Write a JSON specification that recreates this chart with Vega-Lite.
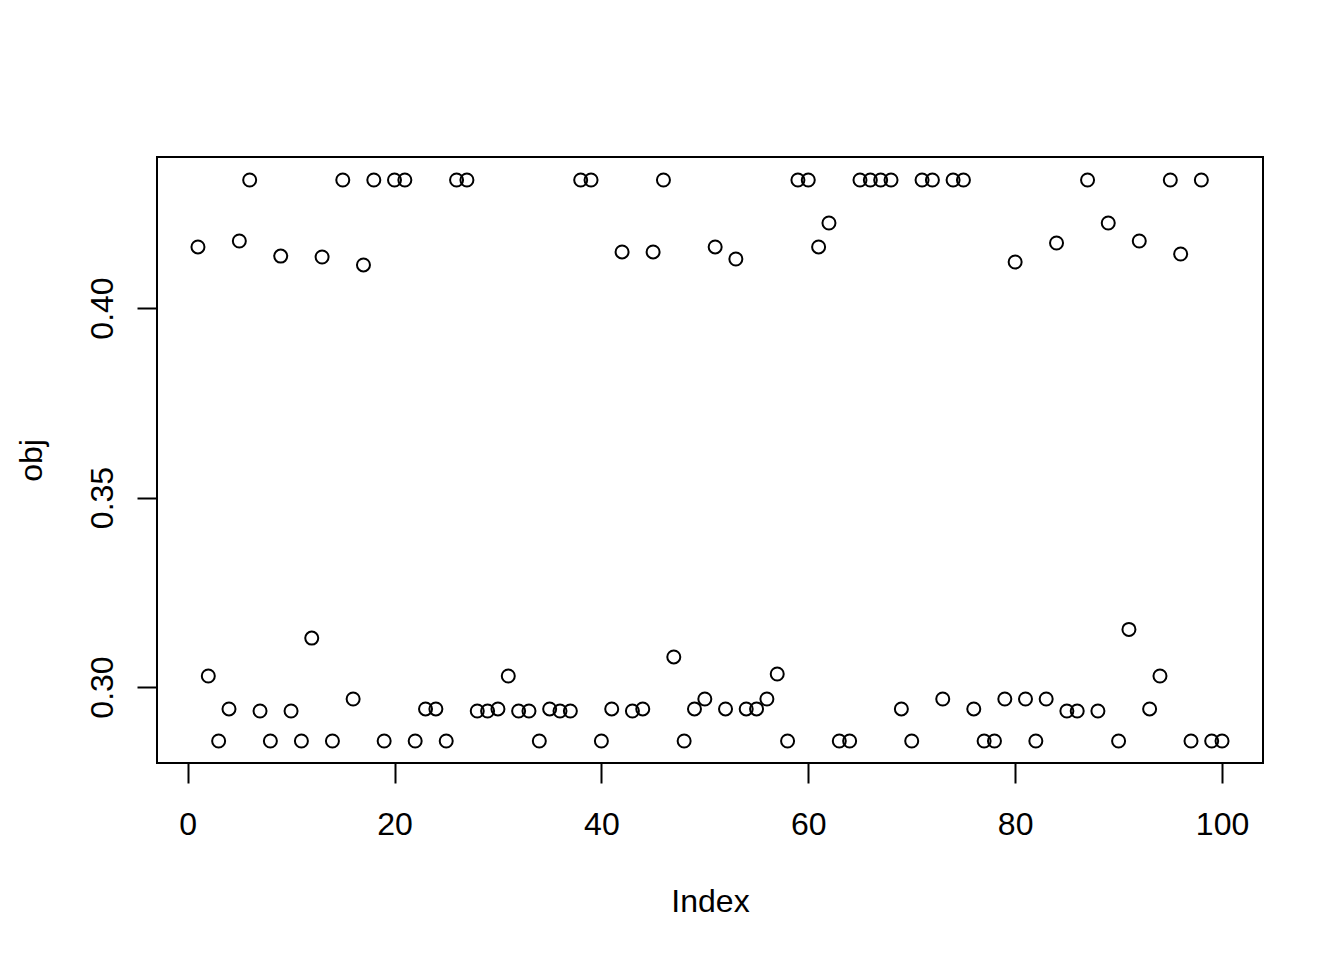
{
  "$schema": "https://vega.github.io/schema/vega-lite/v6.json",
  "width": 1106,
  "height": 606,
  "autosize": {"type": "none"},
  "padding": {"left": 157, "top": 157, "right": 81, "bottom": 197},
  "background": "white",
  "config": {"view": {"stroke": "black", "strokeWidth": 2}, "font": "Liberation Sans"},
  "data": {"values": [
    {"index": 1, "obj": 0.4161}, {"index": 2, "obj": 0.3029}, {"index": 3, "obj": 0.28575}, {"index": 4, "obj": 0.2942}, {"index": 5, "obj": 0.41768},
    {"index": 6, "obj": 0.43377}, {"index": 7, "obj": 0.29367}, {"index": 8, "obj": 0.28575}, {"index": 9, "obj": 0.4137}, {"index": 10, "obj": 0.29367},
    {"index": 11, "obj": 0.28575}, {"index": 12, "obj": 0.3129}, {"index": 13, "obj": 0.41346}, {"index": 14, "obj": 0.28575}, {"index": 15, "obj": 0.43377},
    {"index": 16, "obj": 0.29683}, {"index": 17, "obj": 0.41135}, {"index": 18, "obj": 0.43377}, {"index": 19, "obj": 0.28575}, {"index": 20, "obj": 0.43377},
    {"index": 21, "obj": 0.43377}, {"index": 22, "obj": 0.28575}, {"index": 23, "obj": 0.2942}, {"index": 24, "obj": 0.2942}, {"index": 25, "obj": 0.28575},
    {"index": 26, "obj": 0.43377}, {"index": 27, "obj": 0.43377}, {"index": 28, "obj": 0.29367}, {"index": 29, "obj": 0.29367}, {"index": 30, "obj": 0.2942},
    {"index": 31, "obj": 0.3029}, {"index": 32, "obj": 0.29367}, {"index": 33, "obj": 0.29367}, {"index": 34, "obj": 0.28575}, {"index": 35, "obj": 0.2942},
    {"index": 36, "obj": 0.29367}, {"index": 37, "obj": 0.29367}, {"index": 38, "obj": 0.43377}, {"index": 39, "obj": 0.43377}, {"index": 40, "obj": 0.28575},
    {"index": 41, "obj": 0.2942}, {"index": 42, "obj": 0.41478}, {"index": 43, "obj": 0.29367}, {"index": 44, "obj": 0.2942}, {"index": 45, "obj": 0.41478},
    {"index": 46, "obj": 0.43377}, {"index": 47, "obj": 0.30792}, {"index": 48, "obj": 0.28575}, {"index": 49, "obj": 0.2942}, {"index": 50, "obj": 0.29683},
    {"index": 51, "obj": 0.4161}, {"index": 52, "obj": 0.2942}, {"index": 53, "obj": 0.41293}, {"index": 54, "obj": 0.2942}, {"index": 55, "obj": 0.2942},
    {"index": 56, "obj": 0.29683}, {"index": 57, "obj": 0.30343}, {"index": 58, "obj": 0.28575}, {"index": 59, "obj": 0.43377}, {"index": 60, "obj": 0.43377},
    {"index": 61, "obj": 0.4161}, {"index": 62, "obj": 0.42243}, {"index": 63, "obj": 0.28575}, {"index": 64, "obj": 0.28575}, {"index": 65, "obj": 0.43377},
    {"index": 66, "obj": 0.43377}, {"index": 67, "obj": 0.43377}, {"index": 68, "obj": 0.43377}, {"index": 69, "obj": 0.2942}, {"index": 70, "obj": 0.28575},
    {"index": 71, "obj": 0.43377}, {"index": 72, "obj": 0.43377}, {"index": 73, "obj": 0.29683}, {"index": 74, "obj": 0.43377}, {"index": 75, "obj": 0.43377},
    {"index": 76, "obj": 0.2942}, {"index": 77, "obj": 0.28575}, {"index": 78, "obj": 0.28575}, {"index": 79, "obj": 0.29683}, {"index": 80, "obj": 0.41214},
    {"index": 81, "obj": 0.29683}, {"index": 82, "obj": 0.28575}, {"index": 83, "obj": 0.29683}, {"index": 84, "obj": 0.41715}, {"index": 85, "obj": 0.29367},
    {"index": 86, "obj": 0.29367}, {"index": 87, "obj": 0.43377}, {"index": 88, "obj": 0.29367}, {"index": 89, "obj": 0.42243}, {"index": 90, "obj": 0.28575},
    {"index": 91, "obj": 0.3152}, {"index": 92, "obj": 0.41768}, {"index": 93, "obj": 0.2942}, {"index": 94, "obj": 0.3029}, {"index": 95, "obj": 0.43377},
    {"index": 96, "obj": 0.41425}, {"index": 97, "obj": 0.28575}, {"index": 98, "obj": 0.43377}, {"index": 99, "obj": 0.28575}, {"index": 100, "obj": 0.28575}
  ]},
  "mark": {"type": "point", "shape": "circle", "filled": false, "color": "black", "size": 169, "strokeWidth": 2, "opacity": 1},
  "encoding": {
    "x": {
      "field": "index", "type": "quantitative",
      "scale": {"domain": [-2.96, 103.96], "nice": false, "zero": false},
      "axis": {
        "values": [0, 20, 40, 60, 80, 100], "grid": false, "domain": false,
        "tickColor": "black", "tickWidth": 2, "tickSize": 20,
        "labelFont": "Liberation Sans", "labelFontSize": 32, "labelColor": "black",
        "labelBaseline": "alphabetic", "labelPadding": 51, "labelFlush": false, "labelOverlap": false,
        "title": "Index", "titleFont": "Liberation Sans", "titleFontSize": 32, "titleFontWeight": "normal", "titleColor": "black",
        "titleBaseline": "alphabetic", "titleAlign": "center", "titleX": 553, "titleY": 148
      }
    },
    "y": {
      "field": "obj", "type": "quantitative",
      "scale": {"domain": [0.279947, 0.439842], "nice": false, "zero": false},
      "axis": {
        "values": [0.30, 0.35, 0.40], "format": ".2f", "grid": false, "domain": false,
        "tickColor": "black", "tickWidth": 2, "tickSize": 20,
        "labelFont": "Liberation Sans", "labelFontSize": 32, "labelColor": "black",
        "labelAngle": 270, "labelAlign": "center", "labelBaseline": "alphabetic", "labelPadding": 25,
        "labelFlush": false, "labelOverlap": false,
        "title": "obj", "titleFont": "Liberation Sans", "titleFontSize": 32, "titleFontWeight": "normal", "titleColor": "black",
        "titleAngle": 270, "titleBaseline": "alphabetic", "titleAlign": "center", "titleX": -116, "titleY": 303
      }
    }
  }
}
